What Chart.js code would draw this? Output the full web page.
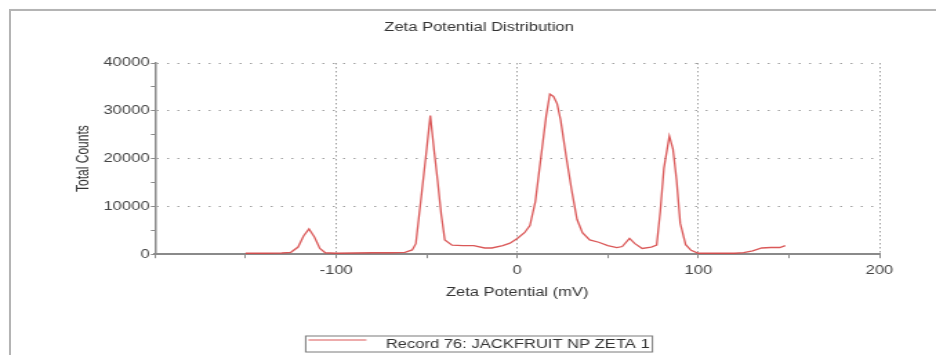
<!DOCTYPE html>
<html>
<head>
<meta charset="utf-8">
<title>Zeta Potential Distribution</title>
<script src="https://cdn.jsdelivr.net/npm/chart.js@4.4.0/dist/chart.umd.min.js"></script>
<style>
  html, body { margin: 0; padding: 0; background: #fff; overflow: hidden; }
  #wrap { position: relative; width: 936px; height: 355px; overflow: hidden; }
  /* the grey report frame around the figure */
  #frame { position: absolute; left: 9px; top: 9px; width: 1000px; height: 400px;
           border: 2px solid #b4b4b4; box-shadow: 1px 1px 2px rgba(0,0,0,0.15); }
  #zetaChart { position: absolute; left: 0; top: 0; }
</style>
</head>
<body>
<div id="wrap">
  <div id="frame"></div>
  <!-- drawn at 678 wide and stretched to 936, like the source picture -->
  <canvas id="zetaChart" width="678" height="355" style="width:936px;height:355px"></canvas>
</div>
<script>
// datos
const chartTitle = 'Zeta Potential Distribution';
const xTitle = 'Zeta Potential (mV)';
const yTitle = 'Total Counts';
const recordLabel = 'Record 76: JACKFRUIT NP ZETA 1';

// Zeta potential (mV)
const zeta = [
  -150, -140, -130, -125, -121, -118, -115, -112, -109, -106,
  -100, -90, -80, -70, -62, -58, -56, -53, -50, -48,
  -46, -44, -42, -40, -36, -30, -24, -18, -14, -8,
  -4, 0, 4, 7, 10, 13, 16, 18, 20, 22,
  24, 27, 30, 33, 36, 40, 45, 50, 55, 58,
  62, 65, 69, 74, 77, 79, 81, 84, 86, 88,
  90, 93, 96, 100, 110, 120, 125, 130, 135, 140,
  145, 148
];
// Total counts
const counts = [
  200, 200, 250, 400, 1500, 3800, 5300, 3600, 1200, 300,
  200, 250, 300, 300, 400, 900, 2200, 12000, 22000, 29000,
  22000, 15500, 8400, 3000, 1900, 1800, 1800, 1300, 1300, 1800,
  2300, 3300, 4500, 6000, 11000, 20000, 29000, 33500, 33000, 31500,
  28000, 20500, 13500, 7300, 4500, 3000, 2500, 1800, 1400, 1600,
  3300, 2200, 1200, 1500, 1900, 9000, 18000, 24700, 22000, 15500,
  6500, 2000, 800, 200, 200, 200, 350, 700, 1300, 1400,
  1400, 1800
];

const fontFamily = '"Liberation Sans", Arial, sans-serif';
Chart.defaults.font.family = fontFamily;
Chart.defaults.font.size = 12;

const lineColor = 'rgba(214, 70, 70, 0.9)';
const gridColor = '#a0a0a0';
const axisColor = '#8a8a8a';

// leyenda con recuadro, centrada bajo el titulo
const boxedLegend = {
  id: 'boxedLegend',
  afterDraw(chart) {
    const ctx = chart.ctx;
    const ds = chart.data.datasets[0];
    const tb = chart.titleBlock;
    ctx.save();
    ctx.font = '12px ' + fontFamily;
    const textW = ctx.measureText(ds.label).width;
    const sample = 42, gap = 14, pad = 2, h = 16, top = 336;
    const w = pad + sample + gap + textW + pad;
    const left = (tb.left + tb.right) / 2 - w / 2;

    ctx.strokeStyle = '#7a7a7a';
    ctx.lineWidth = 1;
    ctx.strokeRect(left, top, w, h);

    ctx.strokeStyle = ds.borderColor;
    ctx.lineWidth = 1.2;
    ctx.beginPath();
    ctx.moveTo(left + pad, top + 4);
    ctx.lineTo(left + pad + sample, top + 4);
    ctx.stroke();

    ctx.fillStyle = '#333';
    ctx.textBaseline = 'middle';
    ctx.fillText(ds.label, left + pad + sample + gap, top + h / 2 + 1);
    ctx.restore();
  }
};

new Chart(document.getElementById('zetaChart'), {
  type: 'line',
  data: {
    datasets: [{
      label: recordLabel,
      data: zeta.map((z, i) => ({ x: z, y: counts[i] })),
      borderColor: lineColor,
      borderWidth: 1.3,
      pointRadius: 0,
      tension: 0,
      fill: false
    }]
  },
  options: {
    responsive: false,
    animation: false,
    devicePixelRatio: 1,
    layout: { padding: { left: 57, right: 41, top: 0, bottom: 51 } },
    plugins: {
      legend: { display: false },
      tooltip: { enabled: false },
      title: {
        display: true,
        text: chartTitle,
        color: '#333',
        font: { size: 12, weight: 'normal' },
        padding: { top: 20, bottom: 28.6 }
      }
    },
    scales: {
      x: {
        type: 'linear',
        min: -200,
        max: 200,
        ticks: {
          stepSize: 50,
          autoSkip: false,
          maxRotation: 0,
          padding: 5,
          color: '#444',
          callback: v => (v % 100 === 0 && v !== -200) ? String(v) : ''
        },
        grid: {
          color: c => (c.tick && c.tick.value % 100 === 0 && c.tick.value !== -200) ? gridColor : 'rgba(0,0,0,0)',
          tickColor: axisColor,
          tickLength: 4,
          lineWidth: 1
        },
        border: { color: axisColor, width: 2, dash: [1.5, 2.5] },
        title: {
          display: true,
          text: xTitle,
          color: '#333',
          padding: { top: 3, bottom: 4 }
        }
      },
      y: {
        min: 0,
        max: 40000,
        ticks: {
          stepSize: 5000,
          autoSkip: false,
          padding: 1,
          color: '#444',
          callback: v => (v % 10000 === 0) ? String(v) : ''
        },
        grid: {
          color: c => (c.tick && c.tick.value % 10000 === 0 && c.tick.value !== 0) ? gridColor : 'rgba(0,0,0,0)',
          tickColor: axisColor,
          tickLength: 3,
          lineWidth: 1
        },
        border: { color: axisColor, width: 1.5, dash: [1.5, 6] },
        title: {
          display: true,
          text: yTitle,
          color: '#333',
          padding: { top: -4, bottom: 0 }
        },
        afterFit: s => { s.width = 55.3; }
      }
    }
  },
  plugins: [boxedLegend]
});
</script>
</body>
</html>
